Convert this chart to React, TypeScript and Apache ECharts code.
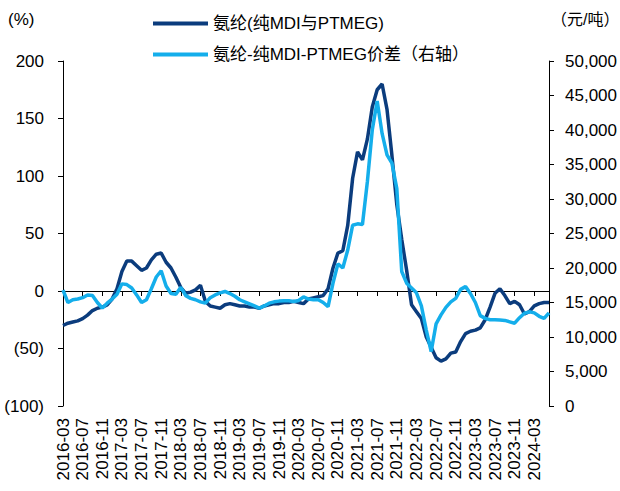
import React, { useEffect, useRef } from "react";
import * as echarts from "echarts";

// 2016-03 .. 2024-06, monthly
const months: string[] = [];
for (let y = 2016; y <= 2024; y++) {
  for (let m = 1; m <= 12; m++) {
    if (y === 2016 && m < 3) continue;
    if (y === 2024 && m > 6) continue;
    months.push(`${y}-${m < 10 ? "0" + m : m}`);
  }
}

const seriesNames = ["氨纶(纯MDI与PTMEG)", "氨纶-纯MDI-PTMEG价差（右轴）"];

// left axis, %
const spandexPct = [
  -30, -28, -27, -26, -24, -21, -17, -15, -14, -12,
  -7, 2, 17, 26, 26, 22, 18, 20, 27, 32,
  33, 25, 20, 12, 3, -2, -1, 1, 5, -9,
  -13, -14, -15, -12, -11, -12, -13, -13, -14, -14,
  -15, -13, -12, -11, -11, -10, -10, -9, -10, -11,
  -7, -6, -5, -4, 2, 20, 33, 35, 57, 98,
  121, 114, 132, 160, 175, 180, 158, 118, 75, 45,
  18, -12, -18, -24, -40, -49, -58, -61, -59, -54,
  -53, -44, -37, -35, -34, -32, -25, -14, -2, 2,
  -4, -11, -9, -12, -20, -18, -13, -11, -10, -10,
];

// right axis, 元/吨
const spreadYuan = [
  16800, 15000, 15400, 15500, 15700, 16100, 16000, 15000, 14200, 14900,
  15500, 16200, 17700, 17600, 17100, 16100, 15000, 15400, 17000, 18700,
  19600, 17400, 16300, 16200, 17200, 16000, 15600, 15400, 15100, 14900,
  15700, 16100, 16400, 16600, 16300, 15900, 15400, 15100, 14800, 14500,
  14200, 14500, 14900, 15100, 15200, 15250, 15250, 15150, 15300, 15800,
  15500, 15400, 15400, 15000, 14400, 17800, 20600, 20000, 22600, 26200,
  26400, 26300, 32500, 40000, 44200, 39500, 36400, 35200, 31500, 19500,
  17800, 17100, 16400, 14500, 11000, 7900, 11900, 13200, 14300, 15100,
  15600, 16900, 17300, 16300, 15000, 13100, 12700, 12500, 12500, 12450,
  12400, 12200, 12000, 12800, 13450, 13650, 13500, 13000, 12700, 13500,
];

const DARK = "#0B3C7D";
const LIGHT = "#14AEEB";
const FONT = "'Liberation Sans', Arial, 'Noto Sans CJK SC', sans-serif";

export default function App() {
  const ref = useRef<HTMLDivElement>(null);
  useEffect(() => {
    if (!ref.current) return;
    const chart = echarts.init(ref.current, null, { renderer: "svg" });
    chart.setOption({
      animation: false,
      textStyle: { fontFamily: FONT, color: "#000" },
      grid: { left: 63, right: 71, top: 61, bottom: 85 },
      legend: {
        orient: "vertical",
        left: 148,
        top: 10,
        itemWidth: 55,
        itemHeight: 4,
        itemGap: 14,
        icon: "rect",
        data: seriesNames,
        textStyle: { fontSize: 17, color: "#000", fontFamily: FONT },
      },
      graphic: [
        { type: "text", left: 8, top: 11, style: { text: "(%)", fontSize: 17, fill: "#000", fontFamily: FONT } },
        { type: "text", left: 551, top: 11, style: { text: "（元/吨）", fontSize: 16, fill: "#000", fontFamily: FONT } },
      ],
      xAxis: [
        {
          type: "category",
          data: months,
          boundaryGap: false,
          position: "bottom",
          axisLine: { show: false, onZero: false },
          axisTick: { show: false },
          axisLabel: {
            interval: 3,
            rotate: 90,
            fontSize: 17,
            color: "#000",
            margin: 12,
            fontFamily: FONT,
          },
          splitLine: { show: false },
        },
        {
          type: "category",
          data: months,
          boundaryGap: false,
          position: "bottom",
          axisLine: { show: true, onZero: true, onZeroAxisIndex: 0, lineStyle: { color: "#000", width: 1 } },
          axisTick: { show: true, interval: 3, length: 5, lineStyle: { color: "#000" } },
          axisLabel: { show: false },
          splitLine: { show: false },
        },
      ],
      yAxis: [
        {
          type: "value",
          min: -100,
          max: 200,
          interval: 50,
          position: "left",
          axisLine: { show: true, onZero: false, lineStyle: { color: "#000" } },
          axisTick: { show: true, length: 5, lineStyle: { color: "#000" } },
          splitLine: { show: false },
          axisLabel: {
            fontSize: 17,
            color: "#000",
            margin: 19,
            fontFamily: FONT,
            formatter: (v: number) => (v < 0 ? `(${-v})` : `${v}`),
          },
        },
        {
          type: "value",
          min: 0,
          max: 50000,
          interval: 5000,
          position: "right",
          axisLine: { show: true, onZero: false, lineStyle: { color: "#000" } },
          axisTick: { show: true, length: 5, lineStyle: { color: "#000" } },
          splitLine: { show: false },
          axisLabel: {
            fontSize: 17,
            color: "#000",
            margin: 16,
            fontFamily: FONT,
            formatter: (v: number) => v.toLocaleString("en-US"),
          },
        },
      ],
      series: [
        {
          name: seriesNames[0],
          type: "line",
          xAxisIndex: 0,
          yAxisIndex: 0,
          data: spandexPct,
          showSymbol: false,
          symbol: "none",
          lineStyle: { color: DARK, width: 3.5 },
          itemStyle: { color: DARK },
        },
        {
          name: seriesNames[1],
          type: "line",
          xAxisIndex: 0,
          yAxisIndex: 1,
          data: spreadYuan,
          showSymbol: false,
          symbol: "none",
          lineStyle: { color: LIGHT, width: 3.5 },
          itemStyle: { color: LIGHT },
        },
      ],
    });
    return () => chart.dispose();
  }, []);
  return (
    <div
      ref={ref}
      style={{ position: "fixed", left: 0, top: 0, width: 620, height: 491, background: "#fff" }}
    />
  );
}
